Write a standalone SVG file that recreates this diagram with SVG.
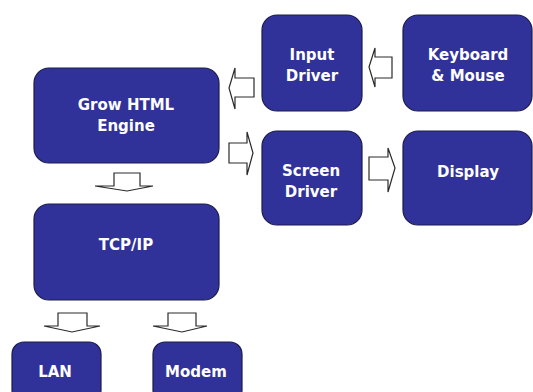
<svg xmlns="http://www.w3.org/2000/svg" width="533" height="392" viewBox="0 0 533 392">
<style>
.box{fill:#31319a;stroke:#1c1c4a;stroke-width:1.2}
.t{font-family:"DejaVu Sans",Verdana,sans-serif;font-weight:bold;font-size:15px;fill:#ffffff;text-anchor:middle}
.arr{fill:#ffffff;stroke:#2a2a2a;stroke-width:1.2;stroke-linejoin:miter}
</style>
<rect width="533" height="392" fill="#ffffff"/>
<g id="connectors">
<path class="arr" d="M254,78 H235 V68 L229,88 L235,109 V97 H254 Z"/>
<path class="arr" d="M229,143 H247 V132 L253,153 L247,175 V163 H229 Z"/>
<path class="arr" d="M392,57 H375 V48 L369,67 L375,87 V78 H392 Z"/>
<path class="arr" d="M369,157 H388 V148 L395,168 L388,192 V180 H369 Z"/>
<path class="arr" d="M114,173 H140 V186 H153 L127,191 L95,186 H114 Z"/>
<path class="arr" d="M58,313 H87 V326 H100 L72,332 L44,326 H58 Z"/>
<path class="arr" d="M168,313 H196 V326 H207 L182,332 L153,326 H168 Z"/>
</g>
<g id="grow">
<rect class="box" x="34" y="68" width="185" height="95" rx="15"/>
<text class="t" x="126" y="110">Grow HTML</text>
<text class="t" x="126" y="131">Engine</text>
</g>
<g id="input">
<rect class="box" x="262" y="15" width="100" height="96" rx="15"/>
<text class="t" x="312" y="60">Input</text>
<text class="t" x="312" y="81">Driver</text>
</g>
<g id="keyboard">
<rect class="box" x="403" y="15" width="129" height="96" rx="15"/>
<text class="t" x="468" y="60">Keyboard</text>
<text class="t" x="468" y="81">&amp; Mouse</text>
</g>
<g id="screen">
<rect class="box" x="262" y="131" width="100" height="94" rx="15"/>
<text class="t" x="311" y="176">Screen</text>
<text class="t" x="311" y="197">Driver</text>
</g>
<g id="display">
<rect class="box" x="403" y="131" width="129" height="94" rx="15"/>
<text class="t" x="468" y="177">Display</text>
</g>
<g id="tcpip">
<rect class="box" x="34" y="204" width="185" height="96" rx="15"/>
<text class="t" x="126" y="250">TCP/IP</text>
</g>
<g id="lan">
<rect class="box" x="12" y="342" width="89" height="60" rx="12"/>
<text class="t" x="55" y="377">LAN</text>
</g>
<g id="modem">
<rect class="box" x="153" y="342" width="89" height="60" rx="12"/>
<text class="t" x="196" y="377">Modem</text>
</g>
</svg>
